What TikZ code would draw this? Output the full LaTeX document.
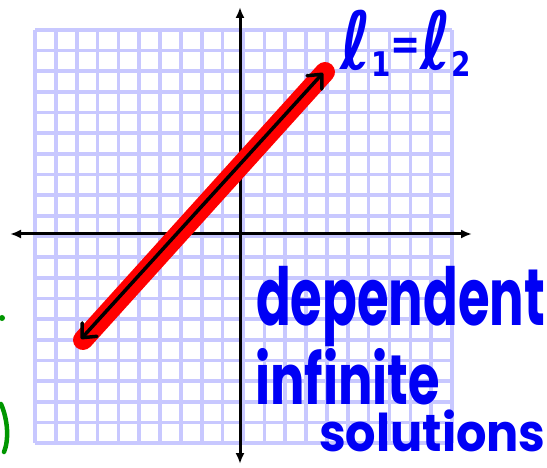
\documentclass[tikz,border=0pt]{standalone}
\usepackage{fontspec}
\setmainfont{Poppins}
\newfontfamily\dejavu{DejaVu Sans}
\usetikzlibrary{arrows.meta}
\definecolor{gridc}{RGB}{200,200,255}
\definecolor{penblue}{RGB}{0,0,245}
\definecolor{pengreen}{RGB}{0,150,0}
\tikzset{
  gridline/.style={draw=gridc, line width=3.6pt},
  axisline/.style={draw=black, line width=3pt, {Latex[length=11pt,width=9pt]}-{Latex[length=11pt,width=9pt]}},
  redline/.style={draw=red, line width=20pt, line cap=round},
  blackarrow/.style={draw=black, line width=3.5pt, line cap=round,
     {Straight Barb[length=11pt,width=20pt,line width=3.5pt,round]}-{Straight Barb[length=11pt,width=20pt,line width=3.5pt,round]}},
  handtext/.style={text=penblue, inner sep=0pt, anchor=base west},
}
\newcommand{\subdig}[1]{\raisebox{-7pt}{\fontsize{34}{34}\selectfont #1}}
\begin{document}
\begin{tikzpicture}[x=1pt,y=-1pt]
\useasboundingbox (0,0) rectangle (547,468);
% grid
\foreach \i in {0,...,20}{
  \draw[gridline] ({35+\i*20.85},30) -- ({35+\i*20.85},443);
  \draw[gridline] (35,{30+\i*20.65}) -- (452,{30+\i*20.65});
}
% axes
\coordinate (xl) at (10,234);
\coordinate (xr) at (472,234);
\coordinate (yt) at (240,7);
\coordinate (yb) at (240,464);
\draw[axisline] (xl) -- (xr);
\draw[axisline] (yt) -- (yb);
% line
\coordinate (lo) at (83,340);
\coordinate (hi) at (325,72);
\draw[redline] (lo) -- (hi);
\coordinate (alo) at (81,339);
\coordinate (ahi) at (323,73);
\draw[blackarrow] (alo) -- (ahi);
% labels
\node[handtext] (lab) at (340,70) {\scalebox{0.82}[1]{\dejavu\bfseries\fontsize{80}{80}\selectfont ℓ\subdig{1}{\fontsize{44}{44}\selectfont\raisebox{10pt}{=}}ℓ\subdig{2}}};
\node[handtext] (dep) at (256,326) {\scalebox{0.64}[1]{\fontsize{80}{80}\selectfont\bfseries dependent}};
\node[handtext] (inf) at (255,404) {\scalebox{0.73}[1]{\fontsize{70}{70}\selectfont\bfseries infinite}};
\node[handtext] (sol) at (319,451) {\scalebox{0.92}[1]{\fontsize{52}{52}\selectfont\bfseries solutions}};
% green fragments at left edge
\fill[pengreen] (2,318) circle (3);
\draw[pengreen, line width=4.5pt, line cap=round] (1,404) .. controls (8,420) and (9,440) .. (4,452);
\end{tikzpicture}
\end{document}
